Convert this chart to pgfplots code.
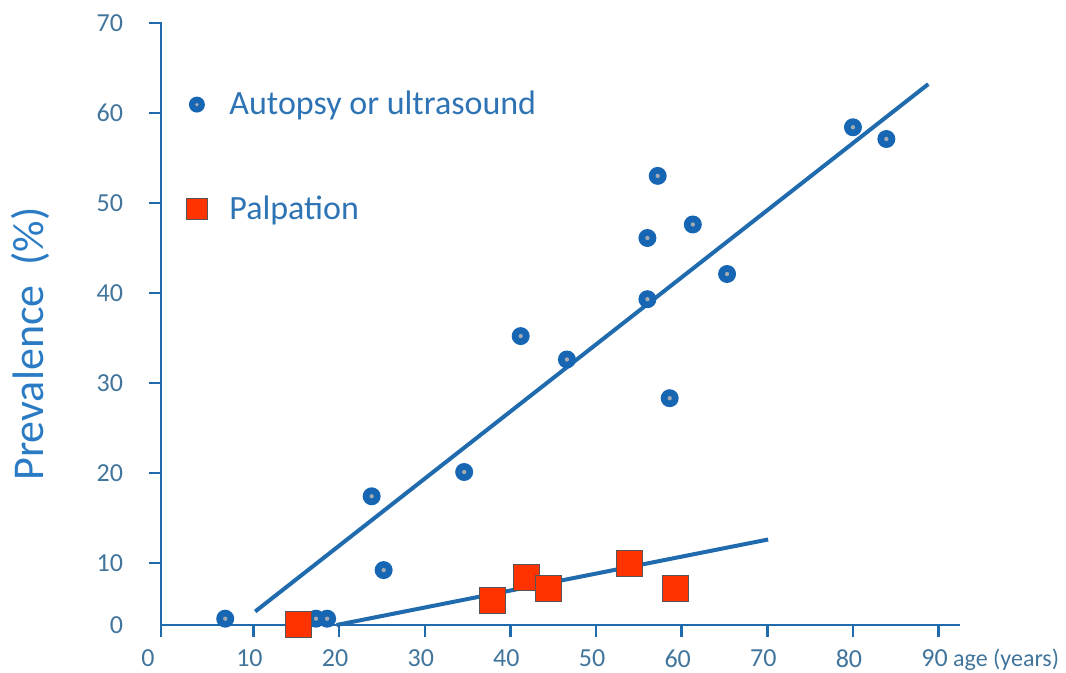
\documentclass[border=0pt]{standalone}
\usepackage{fontspec}
\setmainfont{Carlito}
\usepackage{pgfplots}
\pgfplotsset{compat=1.18}
\usepackage{pgfplotstable}
\definecolor{axisblue}{HTML}{1F6BAE}
\definecolor{labelblue}{HTML}{2A7BC4}
\definecolor{tickblue}{HTML}{41759C}
\definecolor{legblue}{HTML}{2E74B5}
\definecolor{dotblue}{HTML}{1766B3}
\definecolor{dotgray}{HTML}{A3AAB2}
\definecolor{sqred}{HTML}{FF3300}
\definecolor{sqedge}{HTML}{555555}

\pgfdeclareplotmark{ring}{%
  \pgfpathcircle{\pgfpointorigin}{\pgfplotmarksize}%
  \pgfsetfillcolor{dotblue}\pgfusepath{fill}%
  \pgfpathcircle{\pgfpointorigin}{0.24\pgfplotmarksize}%
  \pgfsetfillcolor{dotgray}\pgfusepath{fill}%
}

\pgfplotstableread{
x y
6.7 3.8
17.3 3.8
18.6 3.8
23.8 17.4
25.2 9.2
34.6 20.1
41.2 35.2
46.6 32.6
56.0 39.3
56.0 46.1
57.2 53.0
58.6 28.3
61.3 47.6
65.3 42.1
80.0 58.4
83.9 57.1
}\autopsy

\pgfplotstableread{
x y
15.2 3.1
37.9 5.8
41.9 8.4
44.5 7.2
53.9 9.9
59.3 7.1
}\palpation

\begin{document}
\begin{tikzpicture}
\useasboundingbox (0,0) rectangle (533pt,336.5pt);
\begin{axis}[
  at={(80.5pt,24pt)}, anchor=south west,
  scale only axis, width=399.5pt, height=301.5pt,
  xmin=-0.8, xmax=92.5, ymin=3.1, ymax=70.1,
  axis lines*=left,
  axis line style={axisblue, line width=1.25pt, -},
  tick align=outside,
  major tick length=6pt,
  tick style={axisblue, line width=1.25pt},
  xtick={10,20,...,90},
  ytick={10,20,...,70},
  extra x ticks={-0.8}, extra x tick labels={0},
  extra x tick style={xticklabel style={xshift=-4.5pt}},
  extra y ticks={3.1}, extra y tick labels={0},
  extra y tick style={major tick length=0pt, yticklabel style={xshift=-6pt}},
  /pgf/number format/assume math mode=true,
  tick label style={font=\fontsize{13}{15}\selectfont, text=tickblue},
  xticklabel style={xshift=-2pt, yshift=-3pt},
  yticklabel style={xshift=-9.5pt},
  ylabel={Prevalence\ \ (\%)},
  every axis y label/.style={at={(axis description cs:0,0.466)}, xshift=-65.5pt, rotate=90, anchor=center, font=\fontsize{22}{26}\selectfont, text=labelblue},
  xlabel={age (years)},
  every axis x label/.style={at={(axis description cs:0.991,0)}, anchor=west, yshift=-17.5pt, inner sep=0pt, font=\fontsize{12}{14}\selectfont, text=tickblue},
  legend style={at={(axis description cs:0.0238,0.899)}, anchor=north west, draw=none, fill=none, font=\fontsize{17}{20}\selectfont, text=legblue, row sep=35pt, column sep=9pt},
  legend cell align=left,
  clip=false,
]
\addplot[axisblue, line width=2pt, forget plot] coordinates {(10.2,4.6) (88.8,63.2)};
\addplot[axisblue, line width=2pt, forget plot] coordinates {(19.7,3.1) (70.1,12.6)};
\addplot[only marks, mark=ring, mark size=4.5pt, legend image post style={mark size=4pt}] table[x=x,y=y] {\autopsy};
\addlegendentry{Autopsy or ultrasound}
\addplot[only marks, mark=square*, mark size=6.5pt, mark options={draw=sqedge, fill=sqred, line width=0.5pt}, legend image post style={mark size=5.25pt}] table[x=x,y=y] {\palpation};
\addlegendentry{Palpation}
\end{axis}
\end{tikzpicture}
\end{document}
